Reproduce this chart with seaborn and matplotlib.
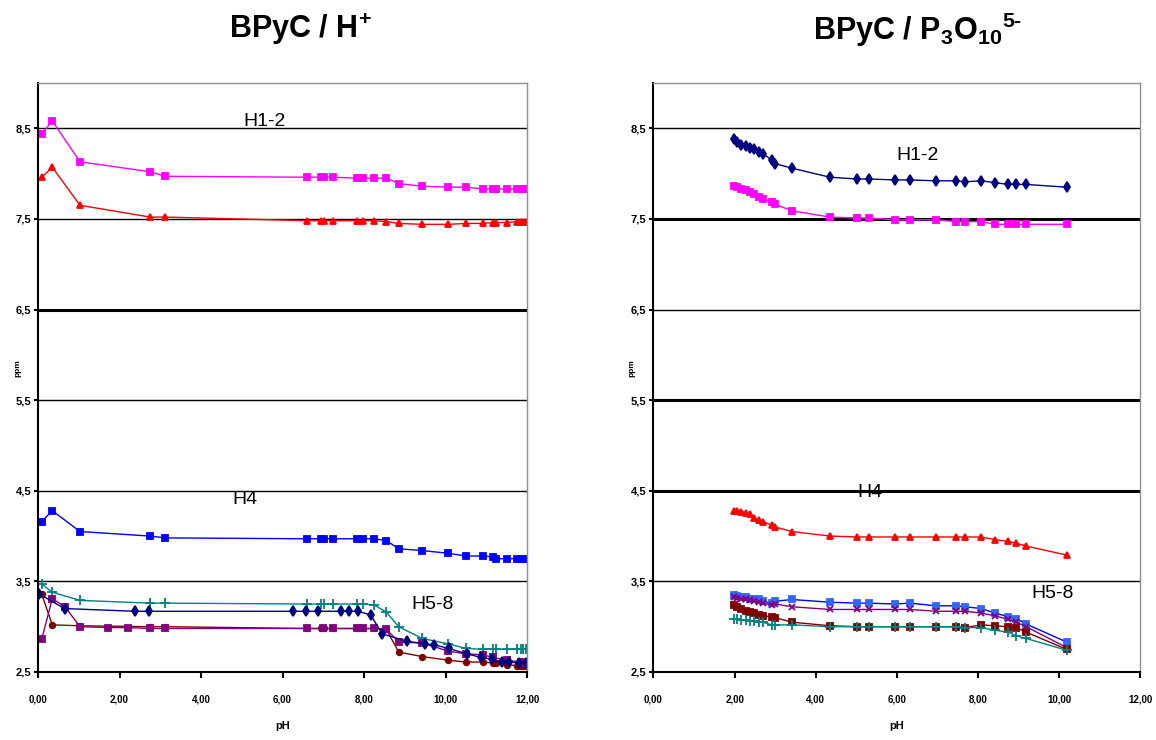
import matplotlib
matplotlib.use('Agg')
import matplotlib.pyplot as plt
import seaborn as sns

sns.set_style('white')
plt.rcParams['font.family'] = ['Liberation Sans', 'DejaVu Sans']
plt.rcParams['mathtext.default'] = 'regular'
plt.rcParams['text.color'] = 'black'
plt.rcParams['axes.labelcolor'] = 'black'
plt.rcParams['xtick.color'] = 'black'
plt.rcParams['ytick.color'] = 'black'

# ---- left chart : BPyC / H+ ----
ph_left = [0.09, 0.35, 1.03, 2.75, 3.12, 6.6, 6.95, 7.02, 7.24, 7.82, 7.97, 8.25, 8.55,
           8.85, 9.43, 10.07, 10.5, 10.92, 11.16, 11.25, 11.52, 11.76, 11.84, 11.91, 11.98]
l_h12_a = [8.44, 8.58, 8.13, 8.02, 7.97, 7.96, 7.96, 7.96, 7.96, 7.95, 7.95, 7.95, 7.95,
           7.89, 7.86, 7.85, 7.85, 7.83, 7.83, 7.83, 7.83, 7.83, 7.83, 7.83, 7.83]
l_h12_b = [7.96, 8.07, 7.65, 7.52, 7.52, 7.48, 7.48, 7.48, 7.48, 7.48, 7.48, 7.48, 7.47,
           7.45, 7.44, 7.44, 7.45, 7.45, 7.46, 7.46, 7.46, 7.47, 7.47, 7.47, 7.47]
l_h4 = [4.16, 4.28, 4.05, 4.00, 3.98, 3.97, 3.97, 3.97, 3.97, 3.97, 3.97, 3.97, 3.95,
        3.86, 3.84, 3.81, 3.78, 3.78, 3.77, 3.75, 3.75, 3.75, 3.75, 3.75, 3.75]
l_teal = [3.47, 3.38, 3.29, 3.26, 3.26, 3.25, 3.25, 3.25, 3.25, 3.25, 3.25, 3.24, 3.16,
          3.00, 2.87, 2.81, 2.76, 2.75, 2.75, 2.75, 2.75, 2.75, 2.75, 2.75, 2.75]
l_maroon = [3.36, 3.02, 3.01, 3.00, 3.00, 2.98, 2.98, 2.98, 2.98, 2.98, 2.98, 2.98, 2.97,
            2.72, 2.67, 2.63, 2.61, 2.61, 2.60, 2.60, 2.58, 2.57, 2.57, 2.57, 2.57]

ph_navy = [0.03, 0.65, 2.37, 2.72, 6.25, 6.58, 6.86, 7.44, 7.62, 7.85, 8.16, 8.45, 9.05,
           9.5, 9.72, 10.08, 10.52, 10.88, 11.13, 11.38, 11.55, 11.8, 11.98]
l_navy = [3.36, 3.20, 3.17, 3.17, 3.17, 3.17, 3.17, 3.17, 3.17, 3.17, 3.13, 2.92, 2.84,
          2.81, 2.80, 2.76, 2.70, 2.66, 2.64, 2.61, 2.61, 2.60, 2.60]

ph_purple = [0.09, 0.35, 0.66, 1.03, 1.72, 2.21, 2.75, 3.12, 6.6, 7.0, 7.24, 7.82, 7.97,
             8.25, 8.55, 8.85, 9.43, 10.07, 10.5, 10.92, 11.16, 11.52, 11.84, 11.98]
l_purple = [2.86, 3.31, 3.22, 3.00, 2.99, 2.99, 2.98, 2.98, 2.98, 2.98, 2.98, 2.98, 2.98,
            2.98, 2.97, 2.83, 2.82, 2.73, 2.70, 2.69, 2.66, 2.63, 2.61, 2.60]

# ---- right chart : BPyC / P3O10 5- ----
ph_right = [1.99, 2.07, 2.17, 2.27, 2.38, 2.48, 2.6, 2.69, 2.92, 3.0, 3.41, 4.35, 5.02,
            5.31, 5.96, 6.32, 6.97, 7.46, 7.69, 8.08, 8.43, 8.75, 8.95, 9.19, 10.19]
r_h12_a = [8.38, 8.35, 8.32, 8.30, 8.28, 8.27, 8.24, 8.22, 8.15, 8.11, 8.06, 7.96, 7.94,
           7.94, 7.93, 7.93, 7.92, 7.92, 7.91, 7.92, 7.90, 7.88, 7.88, 7.88, 7.85]
r_h12_b = [7.86, 7.85, 7.83, 7.82, 7.80, 7.78, 7.74, 7.72, 7.69, 7.66, 7.59, 7.52, 7.51,
           7.51, 7.49, 7.49, 7.49, 7.47, 7.47, 7.47, 7.44, 7.44, 7.44, 7.44, 7.44]
r_h4 = [4.28, 4.28, 4.27, 4.26, 4.24, 4.20, 4.18, 4.16, 4.12, 4.10, 4.05, 4.00, 3.99,
        3.99, 3.99, 3.99, 3.99, 3.99, 3.99, 3.99, 3.96, 3.94, 3.92, 3.89, 3.79]
r_blue = [3.35, 3.34, 3.33, 3.33, 3.30, 3.30, 3.30, 3.28, 3.26, 3.28, 3.30, 3.27, 3.26,
          3.26, 3.25, 3.26, 3.23, 3.23, 3.22, 3.20, 3.15, 3.11, 3.09, 3.03, 2.83]
r_purple = [3.33, 3.32, 3.31, 3.30, 3.29, 3.28, 3.27, 3.26, 3.24, 3.25, 3.22, 3.19, 3.19,
            3.19, 3.19, 3.19, 3.17, 3.17, 3.17, 3.15, 3.12, 3.08, 3.05, 3.00, 2.77]
r_maroon = [3.24, 3.22, 3.19, 3.17, 3.16, 3.15, 3.13, 3.12, 3.11, 3.10, 3.05, 3.01, 3.00,
            3.00, 3.00, 3.00, 3.00, 3.00, 2.99, 3.02, 3.01, 3.00, 2.99, 2.94, 2.75]
r_teal = [3.08, 3.08, 3.07, 3.07, 3.06, 3.06, 3.05, 3.05, 3.02, 3.02, 3.02, 3.00, 3.00,
          3.00, 3.00, 3.00, 3.00, 3.00, 2.99, 2.99, 2.96, 2.94, 2.90, 2.87, 2.74]

y_ticks = [2.5, 3.5, 4.5, 5.5, 6.5, 7.5, 8.5]
x_ticks = [0, 2, 4, 6, 8, 10, 12]

fig = plt.figure(figsize=(11.56, 7.40), dpi=100)
ax1 = fig.add_axes([0.0329, 0.0919, 0.423, 0.796])
ax2 = fig.add_axes([0.5653, 0.0919, 0.4209, 0.796])


def draw(ax, x, y, color, marker, mcolor=None, ms=5):
    sns.lineplot(x=x, y=y, ax=ax, color=color, linewidth=1, sort=False,
                 estimator=None, marker=marker, markersize=ms,
                 markerfacecolor=mcolor or color, markeredgecolor=mcolor or color,
                 markeredgewidth=1.3)


def style_axes(ax, thick):
    ax.set_xlim(0, 12)
    ax.set_ylim(2.5, 9.0)
    for v in y_ticks[1:]:
        ax.axhline(v, color='black', linewidth=2.2 if v in thick else 1.0, zorder=0)
    ax.set_xticks(x_ticks)
    ax.set_xticklabels([f'{t:.2f}'.replace('.', ',') for t in x_ticks],
                       fontsize=7, fontweight='bold')
    ax.set_yticks(y_ticks)
    ax.set_yticklabels([f'{t:.1f}'.replace('.', ',') for t in y_ticks],
                       fontsize=8, fontweight='bold')
    ax.tick_params(axis='both', direction='out', length=4, width=1.5,
                   color='black', bottom=True, left=True, pad=12)
    ax.tick_params(axis='y', pad=2, length=3)
    for s in ['left', 'bottom']:
        ax.spines[s].set_color('black')
        ax.spines[s].set_linewidth(1.5)
    for s in ['top', 'right']:
        ax.spines[s].set_color('#909090')
        ax.spines[s].set_linewidth(1)
    ax.set_xlabel('pH', fontsize=8, fontweight='bold', labelpad=12)
    ax.set_ylabel('')


# left chart
draw(ax1, ph_left, l_h12_a, '#FF00FF', 's')
draw(ax1, ph_left, l_h12_b, '#FF0000', '^')
draw(ax1, ph_left, l_h4, '#0000FF', 's')
draw(ax1, ph_left, l_teal, '#008080', '+', ms=7)
draw(ax1, ph_left, l_maroon, '#800000', 'o', ms=4)
draw(ax1, ph_purple, l_purple, '#800080', 's', ms=4)
draw(ax1, ph_navy, l_navy, '#000080', 'd')
style_axes(ax1, thick=[6.5])
ax1.text(5.55, 8.57, 'H1-2', fontsize=14, ha='center', va='center')
ax1.text(5.08, 4.40, 'H4', fontsize=14, ha='center', va='center')
ax1.text(9.67, 3.24, 'H5-8', fontsize=14, ha='center', va='center')

# right chart
draw(ax2, ph_right, r_h12_a, '#000080', 'd')
draw(ax2, ph_right, r_h12_b, '#FF00FF', 's')
draw(ax2, ph_right, r_h4, '#FF0000', '^')
draw(ax2, ph_right, r_blue, '#0000FF', 's', mcolor='#3366FF')
draw(ax2, ph_right, r_purple, '#800080', 'x', ms=5)
draw(ax2, ph_right, r_maroon, '#800000', 's', ms=4)
draw(ax2, ph_right, r_teal, '#008080', '+', ms=7)
style_axes(ax2, thick=[7.5, 5.5, 4.5])
ax2.text(6.51, 8.20, 'H1-2', fontsize=14, ha='center', va='center')
ax2.text(5.33, 4.48, 'H4', fontsize=14, ha='center', va='center')
ax2.text(9.84, 3.37, 'H5-8', fontsize=14, ha='center', va='center')

fig.text(18 / 1156, 0.503, 'ppm', rotation=90, fontsize=6, fontweight='bold',
         ha='center', va='center')
fig.text(632 / 1156, 0.503, 'ppm', rotation=90, fontsize=6, fontweight='bold',
         ha='center', va='center')

fig.text(300 / 1156, 0.960, 'BPyC / H$^{+}$', fontsize=22, fontweight='bold',
         ha='center', va='center')
fig.text(918 / 1156, 0.960, 'BPyC / P$_{3}$O$_{10}$$^{5\u2010}$', fontsize=22,
         fontweight='bold', ha='center', va='center')

fig.savefig('out.png', dpi=100, facecolor='white')
